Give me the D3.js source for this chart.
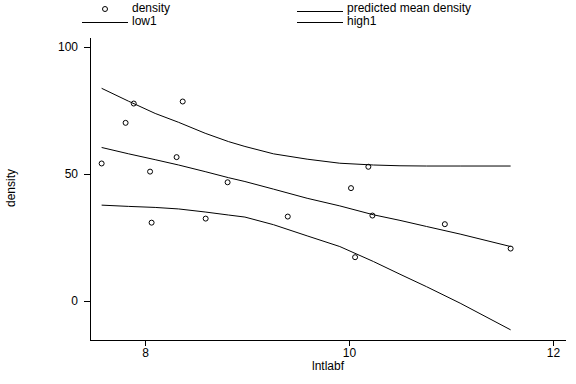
<!DOCTYPE html>
<meta charset="utf-8" />
<style>
  body { margin: 0; background: #fff; }
  text { font-family: "Liberation Sans", Arial, sans-serif; font-size: 12px; fill: #000; }
</style>
<script src="https://d3js.org/d3.v7.min.js"></script>
<svg id="chart" width="576" height="384"></svg>
<script>
  // scatter values
  const lntlabf = [7.575, 7.81, 7.89, 8.05, 8.065, 8.31, 8.37, 8.595, 8.81, 9.40, 10.02, 10.06, 10.19, 10.23, 10.94, 11.585];
  const density = [54.1, 70.1, 77.7, 50.9, 30.8, 56.6, 78.5, 32.4, 46.7, 33.2, 44.4, 17.2, 52.8, 33.6, 30.2, 20.6];

  // fitted lines, read at these x positions
  const lineX = [7.575, 7.84, 8.1, 8.33, 8.59, 8.82, 8.98, 9.26, 9.59, 9.91, 10.24, 10.5, 10.76, 11.09, 11.585];
  const predicted = [60.4, 57.9, 55.6, 53.5, 50.9, 48.5, 47.0, 44.0, 40.4, 37.4, 33.9, 31.7, 29.3, 26.3, 21.4];
  const low1 = [37.7, 37.2, 36.8, 36.2, 35.0, 33.8, 33.0, 30.0, 25.6, 21.4, 15.5, 10.5, 5.6, -0.9, -11.4];
  const high1 = [83.7, 78.6, 73.8, 70.3, 66.0, 62.7, 60.8, 57.9, 55.8, 54.2, 53.5, 53.2, 53.1, 53.1, 53.1];

  const xTicks = [8, 10, 12];
  const yTicks = [0, 50, 100];

  const svg = d3.select('#chart');

  const x = d3.scaleLinear().domain([7.461, 12.118]).range([90, 565]);
  const y = d3.scaleLinear().domain([-15.4, 103.9]).range([340, 37]);

  // axes
  const xAxis = svg.append('g')
    .attr('transform', 'translate(0,340)')
    .call(d3.axisBottom(x).tickValues(xTicks).tickFormat(d3.format('d'))
      .tickSize(6).tickPadding(2).tickSizeOuter(0));
  const yAxis = svg.append('g')
    .attr('transform', 'translate(90,0)')
    .call(d3.axisLeft(y).tickValues(yTicks).tickFormat(d3.format('d'))
      .tickSize(6).tickPadding(6).tickSizeOuter(0));
  [xAxis, yAxis].forEach(function (g) {
    g.attr('font-family', null).attr('font-size', null);
    g.select('.domain').attr('stroke', '#000').attr('shape-rendering', 'crispEdges');
    g.selectAll('.tick line').attr('stroke', '#000').attr('shape-rendering', 'crispEdges');
  });

  // axis titles
  svg.append('text')
    .attr('x', 328).attr('y', 370)
    .attr('text-anchor', 'middle')
    .text('lntlabf');
  svg.append('text')
    .attr('transform', 'translate(15,188) rotate(-90)')
    .attr('text-anchor', 'middle')
    .text('density');

  // lines
  const line = function (vals) {
    return d3.line()
      .x(function (d, i) { return x(lineX[i]); })
      .y(function (d) { return y(d); })(vals);
  };
  [predicted, low1, high1].forEach(function (vals) {
    svg.append('path')
      .attr('d', line(vals))
      .attr('fill', 'none')
      .attr('stroke', '#000')
      .attr('stroke-width', 1);
  });

  // points
  svg.append('g')
    .selectAll('circle')
    .data(density)
    .enter()
    .append('circle')
    .attr('cx', function (d, i) { return x(lntlabf[i]); })
    .attr('cy', function (d) { return y(d); })
    .attr('r', 2.5)
    .attr('fill', 'none')
    .attr('stroke', '#000')
    .attr('stroke-width', 1);

  // legend
  const legend = svg.append('g');
  legend.append('circle')
    .attr('cx', 105).attr('cy', 9).attr('r', 2.5)
    .attr('fill', 'none').attr('stroke', '#000');
  legend.append('text').attr('x', 132).attr('y', 12).text('density');
  legend.append('line').attr('x1', 297).attr('x2', 343).attr('y1', 11.5).attr('y2', 11.5).attr('stroke', '#000');
  legend.append('text').attr('x', 347).attr('y', 12).text('predicted mean density');
  legend.append('line').attr('x1', 82).attr('x2', 128).attr('y1', 22.5).attr('y2', 22.5).attr('stroke', '#000');
  legend.append('text').attr('x', 132).attr('y', 25).text('low1');
  legend.append('line').attr('x1', 297).attr('x2', 343).attr('y1', 22.5).attr('y2', 22.5).attr('stroke', '#000');
  legend.append('text').attr('x', 347).attr('y', 25).text('high1');
</script>
